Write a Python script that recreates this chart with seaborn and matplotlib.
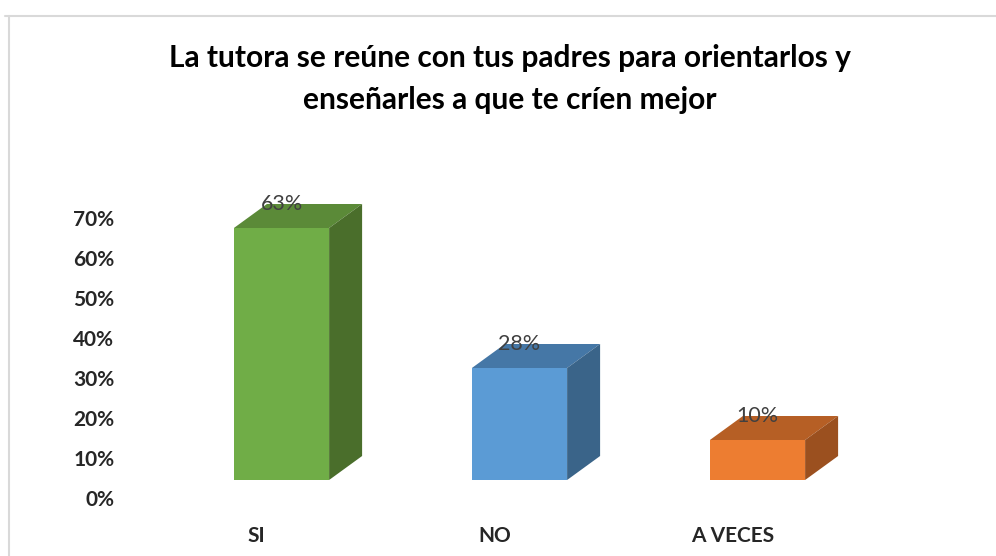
import pandas as pd
import seaborn as sns
import matplotlib.pyplot as plt
import matplotlib.transforms as mtransforms
from matplotlib.patches import Polygon
from matplotlib.lines import Line2D

# Data
categories = ["SI", "NO", "A VECES"]
values = [0.63, 0.28, 0.10]
value_labels = ["63%", "28%", "10%"]
tick_values = [0, 0.1, 0.2, 0.3, 0.4, 0.5, 0.6, 0.7]
tick_labels = ["0%", "10%", "20%", "30%", "40%", "50%", "60%", "70%"]

df = pd.DataFrame({"respuesta": categories, "porcentaje": values})

# Colors: front, top, side
front = {"SI": "#70ad47", "NO": "#5b9bd5", "A VECES": "#ed7d31"}
top = {"SI": "#5b8a38", "NO": "#4577a6", "A VECES": "#b65f25"}
side = {"SI": "#4a6e2b", "NO": "#3a6489", "A VECES": "#9b501f"}

sns.set_style("white")
plt.rcParams["font.family"] = ["Lato", "DejaVu Sans"]

fig = plt.figure(figsize=(9.96, 5.56), dpi=100)
W, H = 996, 556
# axes placed in pixels
ax_left, ax_right, ax_top, ax_bottom = 120, 996, 130, 505
ax = fig.add_axes([ax_left / W, 1 - ax_bottom / H,
                   (ax_right - ax_left) / W, (ax_bottom - ax_top) / H])

sns.barplot(data=df, x="respuesta", y="porcentaje", hue="respuesta",
            order=categories, palette=front, width=0.4, legend=False,
            saturation=1, linewidth=0, ax=ax)

ax.set_xlim((ax_left - 281.5) / 238, (ax_right - 281.5) / 238)
ax.set_ylim((480 - ax_bottom) / 400, (480 - ax_top) / 400)

# 3D depth
dx = 33 / 238
dy = 24 / 400
for p, cat, lab in zip(ax.patches, categories, value_labels):
    x0 = p.get_x()
    x1 = x0 + p.get_width()
    h = p.get_height()
    ax.add_patch(Polygon([(x0, h), (x1, h), (x1 + dx, h + dy), (x0 + dx, h + dy)],
                         closed=True, facecolor=top[cat], edgecolor="none"))
    ax.add_patch(Polygon([(x1, 0), (x1, h), (x1 + dx, h + dy), (x1 + dx, dy)],
                         closed=True, facecolor=side[cat], edgecolor="none"))
    ax.text(x0 + p.get_width() / 2, h + dy, lab, ha="center", va="center",
            fontsize=15.5, color="#404040")

ax.set_yticks(tick_values)
ax.set_yticklabels(tick_labels, fontsize=15, fontweight="bold")
ax.set_xticks(range(len(categories)))
ax.set_xticklabels(categories, fontsize=15, fontweight="bold")
ax.tick_params(length=0, pad=4)
ax.tick_params(axis="x", pad=15)
ax.set_xlabel("")
ax.set_ylabel("")
sns.despine(ax=ax, left=True, bottom=True)

# shift tick labels like the original
for t in ax.get_yticklabels():
    t.set_transform(t.get_transform() + mtransforms.ScaledTranslation(-0.0, -0.18, fig.dpi_scale_trans))
for t in ax.get_xticklabels():
    t.set_transform(t.get_transform() + mtransforms.ScaledTranslation(-0.25, 0, fig.dpi_scale_trans))

# Title
fig.text(510 / W, 1 - 79 / H,
         "La tutora se reúne con tus padres para orientarlos y\nenseñarles a que te críen mejor",
         ha="center", va="center", fontsize=21.5, fontweight="bold",
         linespacing=1.6, color="black")

# chart frame
fig.add_artist(Line2D([5 / W, 1], [1 - 16 / H, 1 - 16 / H], color="#d9d9d9", lw=1.5))
fig.add_artist(Line2D([8.5 / W, 8.5 / W], [0, 1 - 16 / H], color="#d9d9d9", lw=1.5))

plt.savefig("out.png", dpi=100)
